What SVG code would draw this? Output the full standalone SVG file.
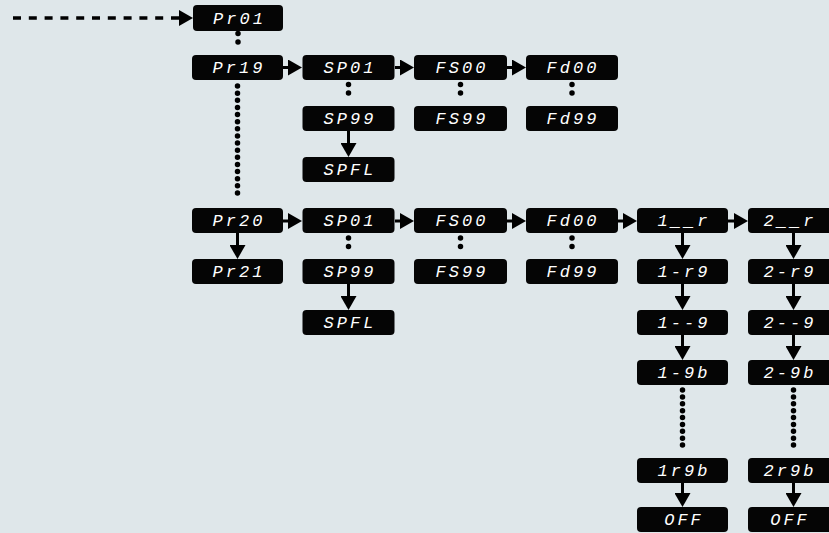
<svg xmlns="http://www.w3.org/2000/svg" width="829" height="533" viewBox="0 0 829 533">
<style>
.bg{fill:#dfe7ea}
.box{fill:#050505}
.t{fill:#ffffff;font-family:"Liberation Mono","DejaVu Sans Mono",monospace;font-style:italic;font-size:17px;letter-spacing:3px;text-anchor:middle}
.ln{stroke:#000;stroke-width:3;fill:none}
.dash{stroke:#000;stroke-width:3.5;fill:none;stroke-dasharray:8 7.8}
.dot{stroke:#000;stroke-width:5.5;fill:none;stroke-linecap:round}
</style>
<defs>
<marker id="ah" markerUnits="userSpaceOnUse" markerWidth="15" markerHeight="16" refX="6" refY="8" orient="auto">
<path d="M0,0 L14,8 L0,16 Z" fill="#000"/>
</marker>
</defs>
<rect class="bg" x="0" y="0" width="829" height="533"/>
<g id="connectors">
<path class="dash" d="M13,18 H185" marker-end="url(#ah)"/>
<path class="dot" d="M238,33.5 V50.5" style="stroke-dasharray:0 8.5"/>
<path class="dot" d="M237.5,86 V200" style="stroke-dasharray:0 7.125"/>
<path class="ln" d="M283,67.5 H294" marker-end="url(#ah)"/>
<path class="ln" d="M395,67.5 H406" marker-end="url(#ah)"/>
<path class="ln" d="M507,67.5 H518" marker-end="url(#ah)"/>
<path class="dot" d="M348.5,84.5 V101.5" style="stroke-dasharray:0 8.5"/>
<path class="dot" d="M460.5,84.5 V101.5" style="stroke-dasharray:0 8.5"/>
<path class="dot" d="M572,84.5 V101.5" style="stroke-dasharray:0 8.5"/>
<path class="ln" d="M348.5,131 V149" marker-end="url(#ah)"/>
<path class="ln" d="M283,221 H294" marker-end="url(#ah)"/>
<path class="ln" d="M395,221 H406" marker-end="url(#ah)"/>
<path class="ln" d="M507,221 H518" marker-end="url(#ah)"/>
<path class="ln" d="M618,221 H629" marker-end="url(#ah)"/>
<path class="ln" d="M728,221 H740" marker-end="url(#ah)"/>
<path class="ln" d="M237.5,233 V251" marker-end="url(#ah)"/>
<path class="dot" d="M348.5,238 V255" style="stroke-dasharray:0 8.5"/>
<path class="dot" d="M460.5,238 V255" style="stroke-dasharray:0 8.5"/>
<path class="dot" d="M572,238 V255" style="stroke-dasharray:0 8.5"/>
<path class="ln" d="M348.5,284 V302" marker-end="url(#ah)"/>
<path class="ln" d="M682.5,233 V251" marker-end="url(#ah)"/>
<path class="ln" d="M682.5,284 V302" marker-end="url(#ah)"/>
<path class="ln" d="M682.5,335 V352" marker-end="url(#ah)"/>
<path class="dot" d="M682.5,390 V452" style="stroke-dasharray:0 6.89"/>
<path class="ln" d="M682.5,483 V499" marker-end="url(#ah)"/>
<path class="ln" d="M793.5,233 V251" marker-end="url(#ah)"/>
<path class="ln" d="M793.5,284 V302" marker-end="url(#ah)"/>
<path class="ln" d="M793.5,335 V352" marker-end="url(#ah)"/>
<path class="dot" d="M793.5,390 V452" style="stroke-dasharray:0 6.89"/>
<path class="ln" d="M793.5,483 V499" marker-end="url(#ah)"/>
</g>
<g id="pr01"><rect class="box" x="193" y="5" width="90" height="26" rx="4"/><text class="t" x="239.5" y="23.5">Pr01</text></g>
<g id="pr19"><rect class="box" x="192" y="55" width="91" height="25" rx="4"/><text class="t" x="239" y="73">Pr19</text></g>
<g id="sp01a"><rect class="box" x="302.5" y="55" width="92" height="25" rx="4"/><text class="t" x="350" y="73">SP01</text></g>
<g id="fs00a"><rect class="box" x="414" y="55" width="93" height="25" rx="4"/><text class="t" x="462" y="73">FS00</text></g>
<g id="fd00a"><rect class="box" x="526" y="55" width="92" height="25" rx="4"/><text class="t" x="573" y="73">Fd00</text></g>
<g id="sp99a"><rect class="box" x="302.5" y="106" width="92" height="25" rx="4"/><text class="t" x="350" y="124">SP99</text></g>
<g id="fs99a"><rect class="box" x="414" y="106" width="93" height="25" rx="4"/><text class="t" x="462" y="124">FS99</text></g>
<g id="fd99a"><rect class="box" x="526" y="106" width="92" height="25" rx="4"/><text class="t" x="573" y="124">Fd99</text></g>
<g id="spfla"><rect class="box" x="302.5" y="157" width="92" height="25" rx="4"/><text class="t" x="350" y="175">SPFL</text></g>
<g id="pr20"><rect class="box" x="192" y="208" width="91" height="25" rx="4"/><text class="t" x="239" y="226">Pr20</text></g>
<g id="sp01b"><rect class="box" x="302.5" y="208" width="92" height="25" rx="4"/><text class="t" x="350" y="226">SP01</text></g>
<g id="fs00b"><rect class="box" x="414" y="208" width="93" height="25" rx="4"/><text class="t" x="462" y="226">FS00</text></g>
<g id="fd00b"><rect class="box" x="526" y="208" width="92" height="25" rx="4"/><text class="t" x="573" y="226">Fd00</text></g>
<g id="r1"><rect class="box" x="637" y="208" width="91" height="25" rx="4"/><text class="t" x="684" y="226">1__r</text></g>
<g id="r2"><rect class="box" x="748" y="208" width="91" height="25" rx="4"/><text class="t" x="790" y="226">2__r</text></g>
<g id="pr21"><rect class="box" x="192" y="259" width="91" height="25" rx="4"/><text class="t" x="239" y="277">Pr21</text></g>
<g id="sp99b"><rect class="box" x="302.5" y="259" width="92" height="25" rx="4"/><text class="t" x="350" y="277">SP99</text></g>
<g id="fs99b"><rect class="box" x="414" y="259" width="93" height="25" rx="4"/><text class="t" x="462" y="277">FS99</text></g>
<g id="fd99b"><rect class="box" x="526" y="259" width="92" height="25" rx="4"/><text class="t" x="573" y="277">Fd99</text></g>
<g id="r9a"><rect class="box" x="637" y="259" width="91" height="25" rx="4"/><text class="t" x="684" y="277">1-r9</text></g>
<g id="r9b"><rect class="box" x="748" y="259" width="91" height="25" rx="4"/><text class="t" x="790" y="277">2-r9</text></g>
<g id="spflb"><rect class="box" x="302.5" y="310" width="92" height="25" rx="4"/><text class="t" x="350" y="328">SPFL</text></g>
<g id="g9a"><rect class="box" x="637" y="310" width="91" height="25" rx="4"/><text class="t" x="684" y="328">1--9</text></g>
<g id="g9b"><rect class="box" x="748" y="310" width="91" height="25" rx="4"/><text class="t" x="790" y="328">2--9</text></g>
<g id="b9a"><rect class="box" x="637" y="360" width="91" height="25" rx="4"/><text class="t" x="684" y="378">1-9b</text></g>
<g id="b9b"><rect class="box" x="748" y="360" width="91" height="25" rx="4"/><text class="t" x="790" y="378">2-9b</text></g>
<g id="rb9a"><rect class="box" x="637" y="458" width="91" height="25" rx="4"/><text class="t" x="684" y="476">1r9b</text></g>
<g id="rb9b"><rect class="box" x="748" y="458" width="91" height="25" rx="4"/><text class="t" x="790" y="476">2r9b</text></g>
<g id="offa"><rect class="box" x="637" y="507" width="91" height="25" rx="4"/><text class="t" x="684" y="525">OFF</text></g>
<g id="offb"><rect class="box" x="748" y="507" width="91" height="25" rx="4"/><text class="t" x="790" y="525">OFF</text></g>
</svg>
